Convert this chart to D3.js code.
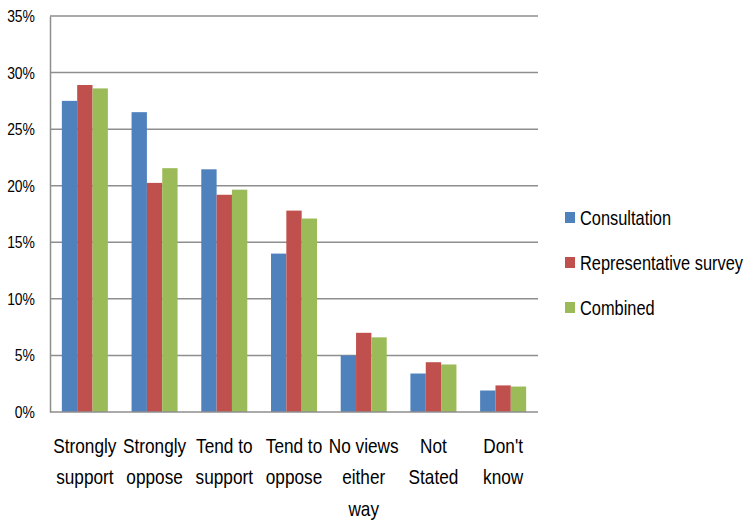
<!DOCTYPE html>
<html>
<head>
<meta charset="utf-8">
<script src="https://cdn.jsdelivr.net/npm/d3@7"></script>
<style>
  html, body { margin: 0; padding: 0; background: #fff; }
  svg { display: block; }
  text { font-family: "Liberation Sans", Arial, sans-serif; fill: #000; }
</style>
</head>
<body>
<svg id="chart" width="749" height="523"></svg>
<script>
const categories = [
  ["Strongly", "support"],
  ["Strongly", "oppose"],
  ["Tend to", "support"],
  ["Tend to", "oppose"],
  ["No views", "either", "way"],
  ["Not", "Stated"],
  ["Don't", "know"]
];
const seriesNames = ["Consultation", "Representative survey", "Combined"];
const seriesColors = ["#4F81BD", "#C0504D", "#9BBB59"];
const consultation = [27.5, 26.5, 21.45, 14.0, 5.0, 3.4, 1.9];
const representative = [28.9, 20.25, 19.2, 17.8, 7.0, 4.4, 2.35];
const combined = [28.6, 21.55, 19.65, 17.1, 6.6, 4.2, 2.25];
const yTicks = [0, 5, 10, 15, 20, 25, 30, 35];

const seriesValues = [consultation, representative, combined];
const SX = 0.82; // horizontal condensing of text

const svg = d3.select("#chart");
const pLeft = 50, pRight = 538, pTop = 16, pBottom = 412;

const x = d3.scaleBand().domain(d3.range(categories.length)).range([pLeft, pRight]).paddingInner(0.34).paddingOuter(0.17);
const xs = d3.scaleBand().domain(d3.range(seriesNames.length)).range([0, x.bandwidth()]);
const y = d3.scaleLinear().domain([0, 35]).range([pBottom, pTop]);

// gridlines
svg.append("g").selectAll("line").data(yTicks.filter(t => t > 0)).join("line")
  .attr("x1", pLeft).attr("x2", pRight)
  .attr("y1", d => y(d)).attr("y2", d => y(d))
  .attr("stroke", "#8e8e8e").attr("stroke-width", 1.5);

// y axis
const yAxis = d3.axisLeft(y).tickValues(yTicks).tickFormat(d => d + "%").tickSize(0).tickPadding(15);
const gy = svg.append("g").attr("transform", `translate(${pLeft},0)`).call(yAxis);
gy.select(".domain").attr("stroke", "#8e8e8e").attr("stroke-width", 1.5);
gy.selectAll("text")
  .style("font-size", "17px").style("font-family", "'Liberation Sans', Arial, sans-serif")
  .attr("fill", "#000")
  .attr("x", -15 / SX)
  .attr("transform", `scale(${SX},1)`);

// bars
const groups = svg.append("g").selectAll("g").data(categories).join("g")
  .attr("transform", (d, i) => `translate(${x(i)},0)`);
groups.selectAll("rect").data((d, i) => seriesValues.map((s, k) => ({k, v: s[i]}))).join("rect")
  .attr("x", d => xs(d.k))
  .attr("width", xs.bandwidth())
  .attr("y", d => y(d.v))
  .attr("height", d => y(0) - y(d.v))
  .attr("fill", d => seriesColors[d.k]);

// x axis line
svg.append("line").attr("x1", pLeft).attr("x2", pRight).attr("y1", pBottom).attr("y2", pBottom)
  .attr("stroke", "#8e8e8e").attr("stroke-width", 1.5);

// category labels
const labG = svg.append("g").selectAll("g").data(categories).join("g")
  .attr("transform", (d, i) => `translate(${x(i) + x.bandwidth() / 2},453) scale(${SX},1)`);
const lab = labG.append("text")
  .attr("x", 0).attr("y", 0)
  .attr("text-anchor", "middle")
  .style("font-size", "21px");
lab.selectAll("tspan").data(d => d).join("tspan")
  .attr("x", 0)
  .attr("dy", (d, j) => j === 0 ? 0 : 31.5)
  .text(d => d);

// legend
const leg = svg.append("g").selectAll("g").data(seriesNames).join("g")
  .attr("transform", (d, i) => `translate(565,${218 + i * 45})`);
leg.append("rect").attr("x", 0).attr("y", -6).attr("width", 10).attr("height", 11)
  .attr("fill", (d, i) => seriesColors[i]);
leg.append("text").attr("x", 15 / SX).attr("y", 7)
  .attr("transform", `scale(${SX},1)`)
  .style("font-size", "20px").text(d => d);
</script>
</body>
</html>
